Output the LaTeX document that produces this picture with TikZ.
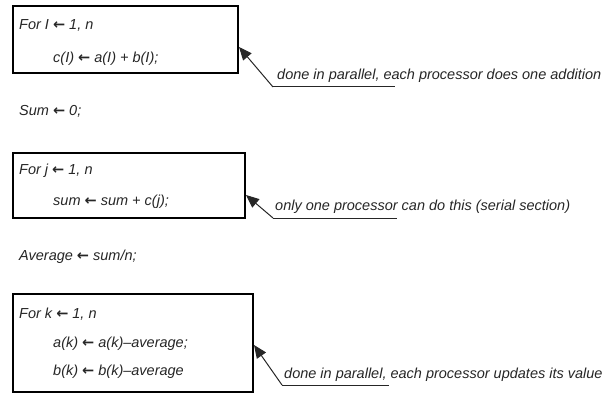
\documentclass[tikz,border=0pt]{standalone}
\usepackage{fontspec}
\setmainfont{Liberation Sans}
\newfontfamily\arrowfont{DejaVu Sans}
\newcommand\larr{{\arrowfont\upshape\bfseries ←}}
\usetikzlibrary{arrows.meta}
\definecolor{ink}{HTML}{262626}
\begin{document}
\begin{tikzpicture}[x=1pt,y=-1pt,
  codebox/.style={draw=black, line width=2.4pt, rectangle, inner sep=0pt, anchor=north west},
  code/.style={anchor=base west, inner sep=0pt, text=ink, font=\fontsize{14.5}{17}\selectfont\itshape},
  pointer/.style={line width=1pt, draw=ink, -{Triangle[length=13pt,width=11pt]}},
  rulel/.style={line width=1pt, draw=ink}]
\useasboundingbox (0,0) rectangle (611,396);
% box 1
\node[codebox, minimum width=225pt, minimum height=67pt] (box1) at (12,5) {};
\node[code] (a1) at (19,30) {For I \larr\ 1, n};
\node[code] (a2) at (53,63) {c(I) \larr\ a(I) + b(I);};
\coordinate (k1) at (273,87);
\coordinate (t1) at (239,47);
\coordinate (u1) at (395,87);
\node[code] (n1) at (277,80) {done in parallel, each processor does one addition};
\draw[pointer] (k1) -- (t1);
\draw[rulel] (k1) -- (u1);
% sum
\node[code] (s0) at (19,115) {Sum \larr\ 0;};
% box 2
\node[codebox, minimum width=232pt, minimum height=65pt] (box2) at (12,152) {};
\node[code] (b1) at (19,174) {For j \larr\ 1, n};
\node[code] (b2) at (53,205) {sum \larr\ sum + c(j);};
\coordinate (k2) at (273,218);
\coordinate (t2) at (246,195);
\coordinate (u2) at (397,218);
\node[code] (n2) at (275,210) {only one processor can do this (serial section)};
\draw[pointer] (k2) -- (t2);
\draw[rulel] (k2) -- (u2);
% average
\node[code] (av) at (19,260) {Average \larr\ sum/n;};
% box 3
\node[codebox, minimum width=240pt, minimum height=98pt] (box3) at (12,293) {};
\node[code] (c1) at (19,318) {For k \larr\ 1, n};
\node[code] (c2) at (53,347) {a(k) \larr\ a(k)–average;};
\node[code] (c3) at (53,375) {b(k) \larr\ b(k)–average};
\coordinate (k3) at (282,385);
\coordinate (t3) at (254,345);
\coordinate (u3) at (389,385);
\node[code] (n3) at (284,378) {done in parallel, each processor updates its value};
\draw[pointer] (k3) -- (t3);
\draw[rulel] (k3) -- (u3);
\end{tikzpicture}
\end{document}
